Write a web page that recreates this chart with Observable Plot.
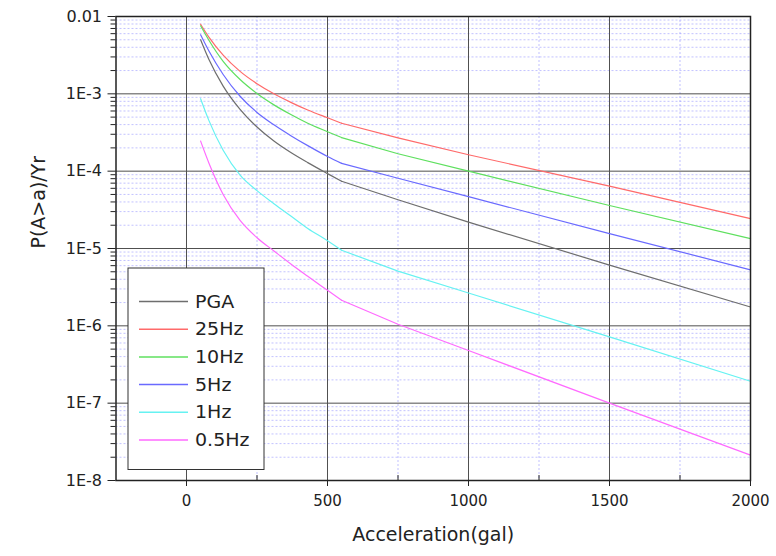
<!DOCTYPE html>
<html><head><meta charset="utf-8">
<script src="https://cdn.jsdelivr.net/npm/d3@7"></script>
<script src="https://cdn.jsdelivr.net/npm/@observablehq/plot@0.6"></script>
<style>body{margin:0;background:#fff}</style>
</head><body><div id="chart"></div>
<script>
const seriesNames = ["PGA", "25Hz", "10Hz", "5Hz", "1Hz", "0.5Hz"];
const seriesColors = ["#6e6e6e", "#ff6a6a", "#5fe05f", "#6a6aff", "#66f2f2", "#ff6aff"];
const accel = [50, 80, 130, 190, 250, 310, 370, 430, 500, 550, 750, 1000, 1500, 2000];
const kinkAccel = 550;
const pga  = [5.0e-3, 2.75e-3, 1.26e-3, 6.3e-4, 3.72e-4, 2.45e-4, 1.74e-4, 1.29e-4, 9.3e-5, 7.4e-5, 4.27e-5, 2.19e-5, 6.1e-6, 1.75e-6];
const hz25 = [7.94e-3, 5.37e-3, 3.16e-3, 1.95e-3, 1.35e-3, 1.0e-3, 7.76e-4, 6.17e-4, 4.9e-4, 4.17e-4, 2.69e-4, 1.63e-4, 6.4e-5, 2.43e-5];
const hz10 = [7.59e-3, 4.9e-3, 2.63e-3, 1.53e-3, 1.01e-3, 7.2e-4, 5.4e-4, 4.17e-4, 3.24e-4, 2.72e-4, 1.68e-4, 1.0e-4, 3.6e-5, 1.34e-5];
const hz5  = [5.8e-3, 3.55e-3, 1.78e-3, 9.3e-4, 5.75e-4, 3.98e-4, 2.88e-4, 2.14e-4, 1.55e-4, 1.26e-4, 8.1e-5, 4.68e-5, 1.56e-5, 5.3e-6];
const hz1  = [8.65e-4, 4.47e-4, 1.86e-4, 8.9e-5, 5.6e-5, 3.8e-5, 2.63e-5, 1.82e-5, 1.26e-5, 9.5e-6, 5.1e-6, 2.66e-6, 7.2e-7, 1.92e-7];
const hz05 = [2.45e-4, 1.26e-4, 5.0e-5, 2.31e-5, 1.38e-5, 9.3e-6, 6.3e-6, 4.37e-6, 2.88e-6, 2.14e-6, 1.05e-6, 4.8e-7, 1.0e-7, 2.13e-8];

const xTicks = [0, 500, 1000, 1500, 2000];
const xMajorGrid = [0, 500, 1000, 1500];
const xMinor = [250, 750, 1250, 1750];
const yTicks = [1e-2, 1e-3, 1e-4, 1e-5, 1e-6, 1e-7, 1e-8];
const yTickLabels = ["0.01", "1E-3", "1E-4", "1E-5", "1E-6", "1E-7", "1E-8"];
const yMajorGrid = [1e-3, 1e-4, 1e-5, 1e-6, 1e-7];
const yMinor = d3.range(-8, -2).flatMap(e => d3.range(2, 10).map(m => m * Math.pow(10, e)));

const allSeries = [pga, hz25, hz10, hz5, hz1, hz05];
const data = seriesNames.flatMap((name, k) => accel.map((x, i) => ({name, x, p: allSeries[k][i]})));
const preKink = data.filter(d => d.x <= kinkAccel);
const postKink = data.filter(d => d.x >= kinkAccel);
const yLabel = new Map(yTicks.map((t, i) => [t, yTickLabels[i]]));

const W = 776, H = 556, mL = 115.5, mR = 26, mT = 16, mB = 76;
const plotH = H - mT - mB;

const chart = Plot.plot({
  width: W, height: H,
  marginLeft: mL, marginRight: mR, marginTop: mT, marginBottom: mB,
  style: {fontFamily: "'DejaVu Sans', sans-serif", fontSize: "15px", color: "#222", background: "#fff"},
  x: {domain: [-250, 2000]},
  y: {type: "log", domain: [1e-8, 1e-2]},
  color: {domain: seriesNames, range: seriesColors},
  marks: [
    Plot.ruleY(yMinor, {y: d => d, stroke: "#8f8fff", strokeDasharray: "2,2", strokeOpacity: 0.55}),
    Plot.ruleX(xMinor, {x: d => d, stroke: "#8f8fff", strokeDasharray: "2,2", strokeOpacity: 0.55}),
    Plot.ruleY(yMajorGrid, {y: d => d, stroke: "#505050", strokeWidth: 1}),
    Plot.ruleX(xMajorGrid, {x: d => d, stroke: "#505050", strokeWidth: 1}),
    Plot.line(preKink, {x: "x", y: "p", z: "name", stroke: "name", strokeWidth: 1.2, curve: "monotone-x"}),
    Plot.line(postKink, {x: "x", y: "p", z: "name", stroke: "name", strokeWidth: 1.2, curve: "linear"}),
    Plot.axisX({ticks: xTicks, tickSize: 6, tickPadding: 9, tickFormat: d => String(d), fontSize: 15, label: null, stroke: "#222"}),
    Plot.tickX(xMinor, {x: d => d, insetTop: plotH - 5, stroke: "#222"}),
    Plot.axisY({ticks: yTicks, tickSize: 8, tickPadding: 6, tickFormat: d => yLabel.get(d), fontSize: 16, label: null, stroke: "#222"}),
    Plot.axisY({ticks: yMinor, tickSize: 5, tickFormat: () => "", label: null, stroke: "#222"}),
    Plot.frame({stroke: "#222", strokeWidth: 1.5}),
    Plot.text(["Acceleration(gal)"], {text: d => d, frameAnchor: "bottom", dy: 60, fontSize: 19, fill: "#222"}),
    Plot.text(["P(A>a)/Yr"], {text: d => d, frameAnchor: "left", dx: -77, rotate: -90, fontSize: 19, fill: "#222"})
  ]
});

// Legend box (inside the plot area, lower left)
const svg = d3.select(chart);
const lg = svg.append("g").attr("font-family", "'DejaVu Sans', sans-serif").attr("text-anchor", "start");
lg.append("rect").attr("x", 128).attr("y", 268).attr("width", 136).attr("height", 201.5)
  .attr("fill", "#fff").attr("stroke", "#333").attr("stroke-width", 1);
seriesNames.forEach((name, i) => {
  const y = 301.5 + i * 27.7;
  lg.append("line").attr("x1", 139).attr("x2", 188).attr("y1", y).attr("y2", y)
    .attr("stroke", seriesColors[i]).attr("stroke-width", 1.5);
  lg.append("text").attr("transform", `translate(195,${y}) scale(1.12,1)`)
    .attr("text-anchor", "start").attr("dy", "0.36em").attr("font-size", 17).attr("fill", "#222").text(name);
});

document.getElementById("chart").appendChild(chart);
</script>
</body></html>
